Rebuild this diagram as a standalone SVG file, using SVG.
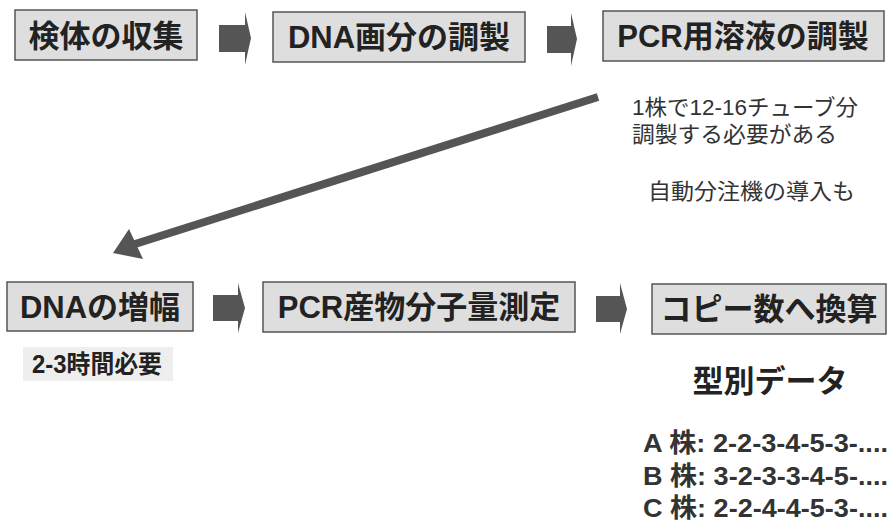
<svg xmlns="http://www.w3.org/2000/svg" width="892" height="525" viewBox="0 0 892 525">
<style>
.box{fill:#dedede;stroke:#555;stroke-width:1.5}
.t{font-family:"Liberation Sans","Noto Sans CJK JP",sans-serif;font-weight:bold;fill:#222}
.big{font-size:31px}
.note{font-family:"Liberation Sans","Noto Sans CJK JP",sans-serif;font-size:22px;fill:#333}
.strain{font-size:26px;fill:#333}
.arr{fill:#555}
</style>
<rect width="892" height="525" fill="#fff"/>
<g id="n1"><rect class="box" x="15" y="10" width="182" height="50"/><text class="t big" x="106" y="47" text-anchor="middle">検体の収集</text></g>
<g id="n2"><rect class="box" x="273" y="12" width="252" height="50"/><text class="t big" x="399" y="48" text-anchor="middle">DNA画分の調製</text></g>
<g id="n3"><rect class="box" x="603" y="11" width="281" height="50"/><text class="t big" x="743" y="47" text-anchor="middle">PCR用溶液の調製</text></g>
<g id="n4"><rect class="box" x="7" y="282" width="186" height="49"/><text class="t big" x="100" y="318" text-anchor="middle">DNAの増幅</text></g>
<g id="n5"><rect class="box" x="263" y="282" width="312" height="50"/><text class="t big" x="419" y="318" text-anchor="middle">PCR産物分子量測定</text></g>
<g id="n6"><rect class="box" x="652" y="284" width="234" height="50"/><text class="t big" x="769" y="320" text-anchor="middle">コピー数へ換算</text></g>
<g id="connectors">
<polygon class="arr" points="219,25 245,25 245,12 251,38 245,65 245,52 219,52"/>
<polygon class="arr" points="547,26 571,26 571,13 577,39 571,66 571,53 547,53"/>
<polygon class="arr" points="213,295 238,295 238,283 245,308 238,333 238,321 213,321"/>
<polygon class="arr" points="596,296 620,296 620,283 627,309 620,334 620,322 596,322"/>
<line x1="598" y1="97" x2="132" y2="245" stroke="#555" stroke-width="8"/>
<polygon class="arr" points="113,253 129,229 143,259"/>
</g>
<g id="notes">
<text class="note" x="632" y="115" textLength="226" lengthAdjust="spacingAndGlyphs">1株で12-16チューブ分</text>
<text class="note" x="632" y="142" textLength="205" lengthAdjust="spacingAndGlyphs">調製する必要がある</text>
<text class="note" x="648" y="199" textLength="207" lengthAdjust="spacingAndGlyphs">自動分注機の導入も</text>
<rect x="23" y="347" width="150" height="34" fill="#eee"/>
<text class="t" x="32" y="373" font-size="25" textLength="130" lengthAdjust="spacingAndGlyphs">2-3時間必要</text>
<text class="t" x="770" y="392" font-size="31" text-anchor="middle" fill="#333">型別データ</text>
<text class="t strain" x="643" y="452" textLength="245" lengthAdjust="spacingAndGlyphs">A 株: 2-2-3-4-5-3-....</text>
<text class="t strain" x="643" y="485" textLength="245" lengthAdjust="spacingAndGlyphs">B 株: 3-2-3-3-4-5-....</text>
<text class="t strain" x="643" y="517" textLength="245" lengthAdjust="spacingAndGlyphs">C 株: 2-2-4-4-5-3-....</text>
</g>
</svg>
